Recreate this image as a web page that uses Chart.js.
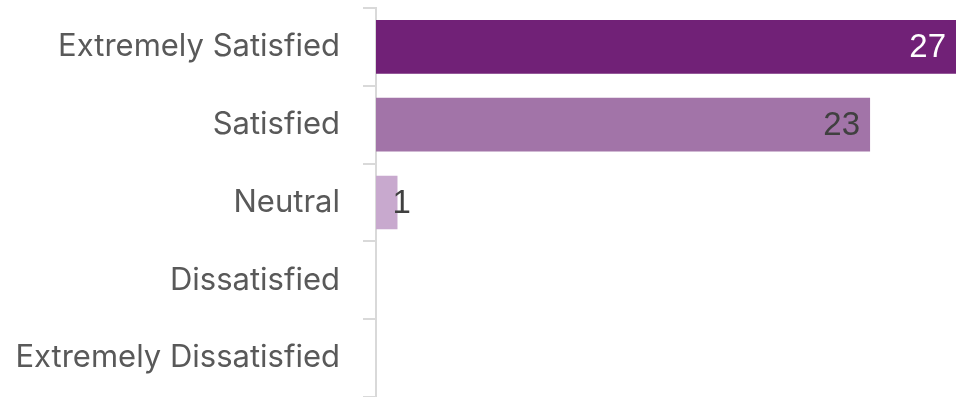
<!DOCTYPE html>
<html>
<head>
<meta charset="utf-8">
<script src="https://cdn.jsdelivr.net/npm/chart.js@4/dist/chart.umd.min.js"></script>
<style>
  html, body { margin: 0; padding: 0; background: #fff; }
  #wrap { width: 956px; height: 397px; position: relative; }
</style>
</head>
<body>
<div id="wrap"><canvas id="myChart"></canvas></div>
<script>
// survey answers, top to bottom
const categories = ['Extremely Satisfied', 'Satisfied', 'Neutral', 'Dissatisfied', 'Extremely Dissatisfied'];
const responses = [27, 23, 1, 0, 0];
const barColors = ['#712177', '#A274A8', '#C8A9CE', '#DCC8E0', '#E8DCEB'];
// where each value label sits: inside the bar end or just past it
const labelPlace = ['inside', 'inside', 'outside', 'none', 'none'];
const labelColors = ['#ffffff', '#404040', '#404040', '#404040', '#404040'];

// value labels drawn from the bar elements
const valueLabels = {
    id: 'valueLabels',
    afterDatasetsDraw(chart) {
        const c = chart.ctx;
        const meta = chart.getDatasetMeta(0);
        c.save();
        c.font = '33px "Liberation Sans", Arial, sans-serif';
        c.textBaseline = 'middle';
        meta.data.forEach((bar, i) => {
            if (labelPlace[i] == 'none') return;
            c.fillStyle = labelColors[i];
            if (labelPlace[i] == 'inside') {
                c.textAlign = 'right';
                c.fillText(responses[i], bar.x - 10, bar.y + 1);
            } else {
                c.textAlign = 'left';
                c.fillText(responses[i], bar.x - 5, bar.y + 1);
            }
        });
        c.restore();
    }
};

const ctx = document.getElementById('myChart');
new Chart(ctx, {
    type: 'bar',
    data: {
        labels: categories,
        datasets: [{
            data: responses,
            backgroundColor: barColors,
            borderWidth: 0,
            barPercentage: 0.69,
            categoryPercentage: 1
        }]
    },
    options: {
        indexAxis: 'y',
        responsive: true,
        maintainAspectRatio: false,
        animation: false,
        layout: { padding: { top: 8, right: 0, bottom: 0, left: 0 } },
        plugins: {
            legend: { display: false },
            tooltip: { enabled: false }
        },
        scales: {
            x: {
                display: false,
                min: 0,
                max: 27
            },
            y: {
                afterFit(scale) {
                    // fixed label column, no extra space above/below
                    scale.width = 376;
                    scale.paddingTop = 0;
                    scale.paddingBottom = 0;
                },
                grid: {
                    drawOnChartArea: false,
                    tickLength: 13,
                    color: '#d9d9d9',
                    lineWidth: 2
                },
                border: { color: '#d9d9d9', width: 2 },
                ticks: {
                    padding: 23,
                    color: '#595959',
                    font: { family: 'Inter, Roboto, sans-serif', size: 31 }
                }
            }
        }
    },
    plugins: [valueLabels]
});
</script>
</body>
</html>
